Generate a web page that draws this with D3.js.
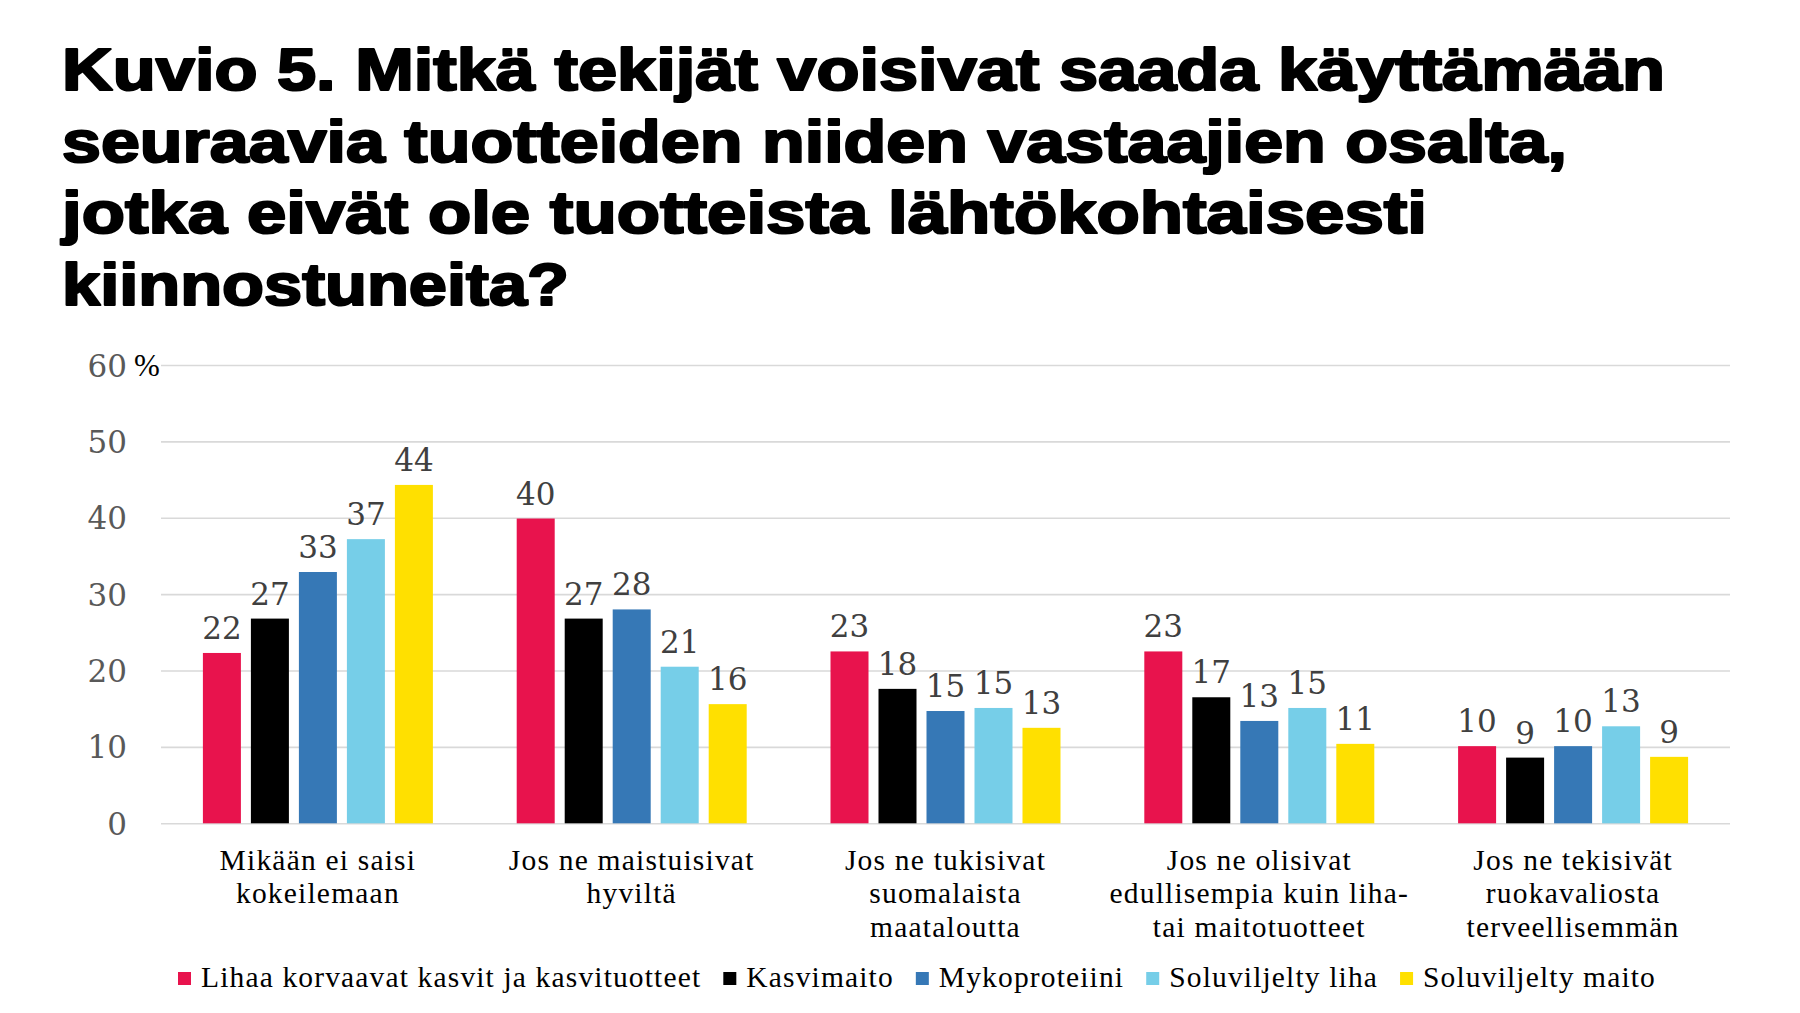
<!DOCTYPE html>
<html>
<head>
<meta charset="utf-8">
<script src="https://cdn.jsdelivr.net/npm/d3@7"></script>
<style>
  html, body { margin: 0; padding: 0; background: #ffffff; }
  svg { display: block; }
</style>
</head>
<body>
<svg id="chart" width="1800" height="1013"></svg>
<script>
// ---- data ----
const titleLines = [
  "Kuvio 5. Mitkä tekijät voisivat saada käyttämään",
  "seuraavia tuotteiden niiden vastaajien osalta,",
  "jotka eivät ole tuotteista lähtökohtaisesti",
  "kiinnostuneita?"
];
const categories = [
  ["Mikään ei saisi", "kokeilemaan"],
  ["Jos ne maistuisivat", "hyviltä"],
  ["Jos ne tukisivat", "suomalaista", "maataloutta"],
  ["Jos ne olisivat", "edullisempia kuin liha-", "tai maitotuotteet"],
  ["Jos ne tekisivät", "ruokavaliosta", "terveellisemmän"]
];
const seriesNames = ["Lihaa korvaavat kasvit ja kasvituotteet", "Kasvimaito", "Mykoproteiini", "Soluviljelty liha", "Soluviljelty maito"];
const seriesColors = ["#e8134d", "#000000", "#3678b6", "#76cee8", "#ffe000"];
const lihaKasvit   = [22.3, 39.9, 22.5, 22.5, 10.1];
const kasvimaito   = [26.8, 26.8, 17.6, 16.5, 8.6];
const mykoproteiini= [32.9, 28.0, 14.7, 13.4, 10.1];
const soluLiha     = [37.2, 20.5, 15.1, 15.1, 12.7];
const soluMaito    = [44.3, 15.6, 12.5, 10.4, 8.7];
const valueLabels = [
  [22, 40, 23, 23, 10],
  [27, 27, 18, 17, 9],
  [33, 28, 15, 13, 10],
  [37, 21, 15, 15, 13],
  [44, 16, 13, 11, 9]
];
const yTicks = [0, 10, 20, 30, 40, 50, 60];
const yMax = 60;

const seriesValues = [lihaKasvit, kasvimaito, mykoproteiini, soluLiha, soluMaito];

// ---- layout ----
const svg = d3.select("#chart");
const plot = { left: 161, right: 1730, top: 365, bottom: 823.3 };

// title
const titleLeft = 62;
const titleRight = [1665, 1567, 1427, 569];
const titleG = svg.append("g");
titleLines.forEach((t, i) => {
  titleG.append("text")
    .attr("x", titleLeft)
    .attr("y", 90 + i * 71.7)
    .attr("font-family", "'Liberation Sans', Arial, sans-serif")
    .attr("font-weight", "bold")
    .attr("font-size", 60)
    .attr("fill", "#000")
    .attr("stroke", "#000")
    .attr("stroke-width", 2.2)
    .attr("stroke-linejoin", "round")
    .attr("textLength", titleRight[i] - titleLeft)
    .attr("lengthAdjust", "spacingAndGlyphs")
    .text(t);
});

// scales
const y = d3.scaleLinear().domain([0, yMax]).range([plot.bottom, plot.top]);
const x0 = d3.scaleBand().domain(d3.range(categories.length)).range([plot.left, plot.right]).padding(0);
const x1 = d3.scaleBand().domain(d3.range(seriesNames.length)).range([0, x0.bandwidth()])
  .paddingInner(0.2083).paddingOuter(0.873);

// y axis with gridlines
const yAxis = d3.axisLeft(y).tickValues(yTicks).tickSize(-(plot.right - plot.left)).tickPadding(34);
const yg = svg.append("g").attr("transform", `translate(${plot.left},0)`).call(yAxis);
yg.select(".domain").remove();
yg.selectAll(".tick line").attr("stroke", "#d9d9d9").attr("stroke-width", 1.6);
yg.selectAll(".tick text")
  .attr("font-family", "'DejaVu Serif', Georgia, serif")
  .attr("font-size", 31)
  .attr("fill", "#595959")
  .attr("dy", null)
  .attr("y", 11);

// percent sign
svg.append("text")
  .attr("x", 134)
  .attr("y", y(60) + 11)
  .attr("font-family", "'Liberation Serif', Georgia, serif")
  .attr("font-size", 31)
  .attr("fill", "#000")
  .text("%");

// bars
const groups = svg.append("g").selectAll("g")
  .data(categories.map((c, ci) => ci))
  .join("g")
  .attr("transform", ci => `translate(${x0(ci)},0)`);

groups.selectAll("rect")
  .data(ci => seriesValues.map((vals, si) => ({ si, v: vals[ci] })))
  .join("rect")
  .attr("x", d => x1(d.si))
  .attr("width", x1.bandwidth())
  .attr("y", d => y(d.v))
  .attr("height", d => y(0) - y(d.v))
  .attr("fill", d => seriesColors[d.si]);

groups.selectAll("text.val")
  .data(ci => seriesValues.map((vals, si) => ({ si, v: vals[ci], lab: valueLabels[si][ci] })))
  .join("text")
  .attr("class", "val")
  .attr("x", d => x1(d.si) + x1.bandwidth() / 2)
  .attr("y", d => y(d.v) - 14)
  .attr("text-anchor", "middle")
  .attr("font-family", "'DejaVu Serif', Georgia, serif")
  .attr("font-size", 31)
  .attr("fill", "#404040")
  .text(d => d.lab);

// category labels
const catG = svg.append("g");
categories.forEach((lines, ci) => {
  const t = catG.append("text")
    .attr("x", x0(ci) + x0.bandwidth() / 2)
    .attr("y", 870)
    .attr("text-anchor", "middle")
    .attr("font-family", "'Liberation Serif', Georgia, serif")
    .attr("font-size", 29.5)
    .attr("letter-spacing", 1.2)
    .attr("fill", "#000");
  lines.forEach((ln, li) => {
    t.append("tspan")
      .attr("x", x0(ci) + x0.bandwidth() / 2)
      .attr("dy", li === 0 ? 0 : 33.3)
      .text(ln);
  });
});

// legend
const legG = svg.append("g");
let lx = 178;
seriesNames.forEach((name, si) => {
  legG.append("rect")
    .attr("x", lx).attr("y", 972)
    .attr("width", 13).attr("height", 13)
    .attr("fill", seriesColors[si]);
  const t = legG.append("text")
    .attr("x", lx + 23)
    .attr("y", 987)
    .attr("font-family", "'Liberation Serif', Georgia, serif")
    .attr("font-size", 29.5)
    .attr("letter-spacing", 1.15)
    .attr("fill", "#000")
    .text(name);
  const w = t.node().getComputedTextLength();
  lx = lx + 23 + w + 22;
});
</script>
</body>
</html>
